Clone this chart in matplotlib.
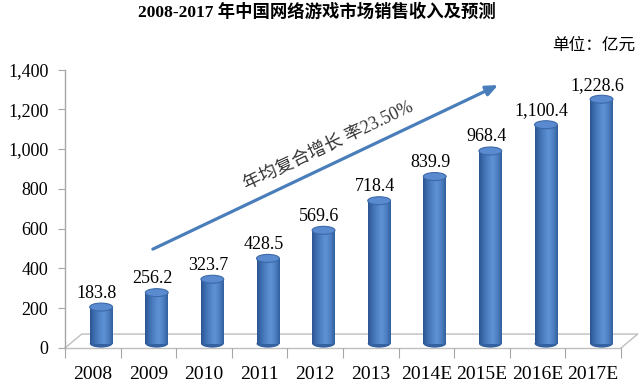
import numpy as np
import matplotlib
matplotlib.use("Agg")
import matplotlib.pyplot as plt
from matplotlib.patches import Ellipse
from matplotlib.colors import LinearSegmentedColormap

plt.rcParams['font.family'] = ['Liberation Serif', 'Noto Sans CJK SC', 'DejaVu Sans']

# data
years = ['2008', '2009', '2010', '2011', '2012', '2013',
         '2014E', '2015E', '2016E', '2017E']
revenue = [183.8, 256.2, 323.7, 428.5, 569.6, 718.4, 839.9, 968.4, 1100.4, 1228.6]
value_labels = ['183.8', '256.2', '323.7', '428.5', '569.6', '718.4',
                '839.9', '968.4', '1,100.4', '1,228.6']
yticks = [0, 200, 400, 600, 800, 1000, 1200, 1400]
ytick_labels = ['0', '200', '400', '600', '800', '1,000', '1,200', '1,400']

title = '2008-2017 年中国网络游戏市场销售收入及预测'
unit = '单位：亿元'
cagr_text = '年均复合增长 率23.50%'

# 3d look
depth_x = 0.30      # floor depth, category units
depth_y = 70        # floor depth, value units
bar_dx = 0.15       # bars stand in the middle of the floor
bar_base = 22
bar_w = 0.41
ell_h = 40

grey = '#a6a6a6'
body_cmap = LinearSegmentedColormap.from_list(
    'cyl', ['#2c5590', '#3f6fb0', '#5083c6', '#5e92d6', '#4f80c2', '#31609e'])

fig = plt.figure(figsize=(6.42, 3.86), dpi=100)
ax = fig.add_axes([65 / 642, 1 - 348 / 386, 556 / 642, 278.5 / 386])

x = np.arange(len(years))

# floor
fx0, fx1 = -0.5, len(years) - 0.5
ax.plot([fx0, fx0 + depth_x, fx1 + depth_x, fx1], [0, depth_y, depth_y, 0],
        color='#bfbfbf', lw=1, clip_on=False, zorder=1)

# cylinders
cx = x + bar_dx
for xi, v in zip(cx, revenue):
    ax.add_patch(Ellipse((xi, bar_base), bar_w, ell_h, facecolor='#34619f',
                         edgecolor='none', zorder=2))
bars = ax.bar(cx, revenue, width=bar_w, bottom=bar_base, facecolor='none',
              edgecolor='none', zorder=3)
grad = np.linspace(0, 1, 64).reshape(1, -1)
for b in bars:
    x0, y0 = b.get_x(), b.get_y()
    im = ax.imshow(grad, cmap=body_cmap, aspect='auto', zorder=3,
                   extent=[x0, x0 + b.get_width(), y0, y0 + b.get_height()])
    im.set_clip_path(b)
for xi, v in zip(cx, revenue):
    ax.add_patch(Ellipse((xi, bar_base + v), bar_w, ell_h, facecolor='#5a8bd0',
                         edgecolor='#3c69a8', lw=0.8, zorder=4))
ax.set_xlim(-0.5, len(years) - 0.5)
ax.set_ylim(0, 1400)

for xi, v, lab in zip(cx, revenue, value_labels):
    ax.annotate(lab, (xi, bar_base + v), xytext=(-3, 4), textcoords='offset points',
                ha='center', va='bottom', fontsize=13, color='black', zorder=5)

# axes
for s in ['top', 'right', 'bottom']:
    ax.spines[s].set_visible(False)
ax.spines['left'].set_color(grey)
ax.spines['left'].set_linewidth(1)
ax.set_yticks(yticks)
ax.set_yticklabels(ytick_labels, fontsize=13)
ax.tick_params(axis='y', length=5, color=grey, pad=7)

ax.set_xticks(np.arange(len(years) + 1) - 0.5)
ax.set_xticklabels([])
ax.tick_params(axis='x', which='major', length=7, color=grey, pad=0)
ax.set_xticks(x, minor=True)
ax.set_xticklabels(years, minor=True, fontsize=14)
ax.tick_params(axis='x', which='minor', length=0, pad=13)
ax.axhline(0, color='#bfbfbf', lw=1, clip_on=False, zorder=1)

# growth arrow
ax.annotate('', xy=(0.779, 0.944), xytext=(0.158, 0.355), xycoords='axes fraction',
            arrowprops=dict(arrowstyle='-|>,head_length=0.7,head_width=0.3',
                            color='#4a7ebb', lw=2.3, shrinkA=0, shrinkB=0))
ax.text(0.474, 0.725, cagr_text, transform=ax.transAxes, rotation=25.4,
        rotation_mode='anchor', ha='center', va='center', fontsize=13,
        color='#333333')

fig.text(0.493, 0.968, title, ha='center', va='center', fontsize=12.5,
         fontweight='bold')
fig.text(0.99, 0.882, unit, ha='right', va='center', fontsize=12)

fig.savefig('out.png', dpi=100)
